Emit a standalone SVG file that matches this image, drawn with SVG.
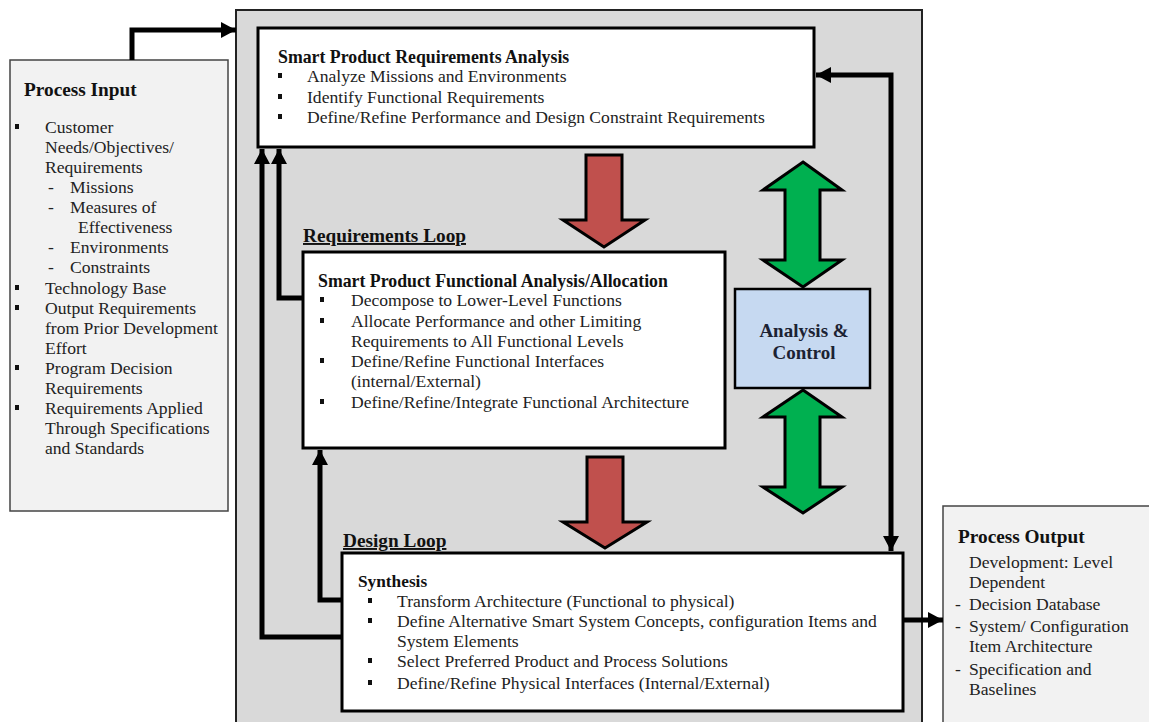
<svg xmlns="http://www.w3.org/2000/svg" width="1149" height="722" viewBox="0 0 1149 722">
<style>
.t{font-family:"Liberation Serif","Times New Roman",serif;font-size:17.6px;fill:#222}
.b{font-family:"Liberation Serif","Times New Roman",serif;font-size:17.8px;font-weight:bold;fill:#111}
.h{font-size:19.3px}
.u{text-decoration:underline}
.box{fill:#fff;stroke:#000;stroke-width:3}
.side{fill:#f2f2f2;stroke:#444;stroke-width:1.5}
.conn{fill:none;stroke:#000;stroke-width:5}
.red{fill:#c0504d;stroke:#000;stroke-width:3;stroke-linejoin:miter}
.green{fill:#00b050;stroke:#000;stroke-width:3;stroke-linejoin:miter}
.bul{fill:#111}
</style>
<defs>
<marker id="ah" markerUnits="userSpaceOnUse" markerWidth="16" markerHeight="16" refX="15" refY="8" orient="auto-start-reverse">
<path d="M0,0 L15,8 L0,16 z" fill="#000"/>
</marker>
</defs>
<rect width="1149" height="722" fill="#fff"/>
<g id="main">
<rect x="236" y="10" width="686" height="730" fill="#d9d9d9" stroke="#222" stroke-width="2"/>
</g>
<g id="process-input">
<rect class="side" x="10" y="60" width="218" height="451"/>
<text class="b h" x="24" y="96">Process Input</text>
<rect class="bul" x="15" y="124" width="4" height="5"/>
<text class="t" x="45" y="133">Customer</text>
<text class="t" x="45" y="153">Needs/Objectives/</text>
<text class="t" x="45" y="173">Requirements</text>
<text class="t" x="48" y="193">-</text><text class="t" x="70" y="193">Missions</text>
<text class="t" x="48" y="213">-</text><text class="t" x="70" y="213">Measures of</text>
<text class="t" x="78" y="233">Effectiveness</text>
<text class="t" x="48" y="253">-</text><text class="t" x="70" y="253">Environments</text>
<text class="t" x="48" y="273">-</text><text class="t" x="70" y="273">Constraints</text>
<rect class="bul" x="15" y="285" width="4" height="5"/>
<text class="t" x="45" y="294">Technology Base</text>
<rect class="bul" x="15" y="305" width="4" height="5"/>
<text class="t" x="45" y="314">Output Requirements</text>
<text class="t" x="45" y="334">from Prior Development</text>
<text class="t" x="45" y="354">Effort</text>
<rect class="bul" x="15" y="365" width="4" height="5"/>
<text class="t" x="45" y="374">Program Decision</text>
<text class="t" x="45" y="394">Requirements</text>
<rect class="bul" x="15" y="405" width="4" height="5"/>
<text class="t" x="45" y="414">Requirements Applied</text>
<text class="t" x="45" y="434">Through Specifications</text>
<text class="t" x="45" y="454">and Standards</text>
</g>
<g id="requirements-analysis">
<rect class="box" x="258" y="28" width="556" height="119"/>
<text class="b" x="278" y="63">Smart Product Requirements Analysis</text>
<rect class="bul" x="278" y="73" width="4" height="5"/>
<text class="t" x="307" y="82">Analyze Missions and Environments</text>
<rect class="bul" x="278" y="94" width="4" height="5"/>
<text class="t" x="307" y="103">Identify Functional Requirements</text>
<rect class="bul" x="278" y="114" width="4" height="5"/>
<text class="t" x="307" y="123">Define/Refine Performance and Design Constraint Requirements</text>
</g>
<g id="requirements-loop-label">
<text class="b h u" x="303" y="242">Requirements Loop</text>
</g>
<g id="functional-analysis">
<rect class="box" x="303" y="252" width="422" height="196"/>
<text class="b" x="318" y="287">Smart Product Functional Analysis/Allocation</text>
<rect class="bul" x="320" y="297" width="4" height="5"/>
<text class="t" x="351" y="306">Decompose to Lower-Level Functions</text>
<rect class="bul" x="320" y="318" width="4" height="5"/>
<text class="t" x="351" y="327">Allocate Performance and other Limiting</text>
<text class="t" x="351" y="347">Requirements to All Functional Levels</text>
<rect class="bul" x="320" y="358" width="4" height="5"/>
<text class="t" x="351" y="367">Define/Refine Functional Interfaces</text>
<text class="t" x="351" y="387">(internal/External)</text>
<rect class="bul" x="320" y="399" width="4" height="5"/>
<text class="t" x="351" y="408">Define/Refine/Integrate Functional Architecture</text>
</g>
<g id="design-loop-label">
<text class="b h u" x="343" y="547">Design Loop</text>
</g>
<g id="synthesis">
<rect class="box" x="342" y="553" width="561" height="158"/>
<text class="b" x="358" y="587" style="font-size:17.3px">Synthesis</text>
<rect class="bul" x="368" y="598" width="4" height="5"/>
<text class="t" x="397" y="607">Transform Architecture (Functional to physical)</text>
<rect class="bul" x="368" y="618" width="4" height="5"/>
<text class="t" x="397" y="627">Define Alternative Smart System Concepts, configuration Items and</text>
<text class="t" x="397" y="647">System Elements</text>
<rect class="bul" x="368" y="658" width="4" height="5"/>
<text class="t" x="397" y="667">Select Preferred Product and Process Solutions</text>
<rect class="bul" x="368" y="680" width="4" height="5"/>
<text class="t" x="397" y="689">Define/Refine Physical Interfaces (Internal/External)</text>
</g>
<g id="analysis-control">
<rect x="735" y="289" width="135" height="99" fill="#c6d9f1" stroke="#000" stroke-width="2.5"/>
<text class="b" x="804" y="337" text-anchor="middle" style="fill:#1c2233;font-size:19px">Analysis &amp;</text>
<text class="b" x="804" y="359" text-anchor="middle" style="fill:#1c2233;font-size:19px">Control</text>
</g>
<g id="process-output">
<rect class="side" x="943" y="506" width="220" height="230"/>
<text class="b h" x="958" y="543">Process Output</text>
<text class="t" x="969" y="568">Development: Level</text>
<text class="t" x="969" y="588">Dependent</text>
<text class="t" x="955" y="610">-</text><text class="t" x="969" y="610">Decision Database</text>
<text class="t" x="955" y="632">-</text><text class="t" x="969" y="632">System/ Configuration</text>
<text class="t" x="969" y="652">Item Architecture</text>
<text class="t" x="955" y="675">-</text><text class="t" x="969" y="675">Specification and</text>
<text class="t" x="969" y="695">Baselines</text>
</g>
<g id="flow-arrows">
<polygon class="red" points="586,155 622,155 622,220 645,220 604,247 563,220 586,220"/>
<polygon class="red" points="587,457 623,457 623,522 647,522 605,548 563,522 587,522"/>
<polygon class="green" points="803,162 842,190 820,190 820,260 842,260 803,287 763,260 785,260 785,190 763,190"/>
<polygon class="green" points="803,390 842,417 820,417 820,487 842,487 803,513 763,487 785,487 785,417 763,417"/>
</g>
<g id="connectors">
<path class="conn" d="M132,60 V30 H236" marker-end="url(#ah)"/>
<path class="conn" d="M816,75 H891 V551" marker-start="url(#ah)" marker-end="url(#ah)"/>
<path class="conn" d="M342,637 H262 V149" marker-end="url(#ah)"/>
<path class="conn" d="M303,298 H279 V149" marker-end="url(#ah)"/>
<path class="conn" d="M342,600 H320 V450" marker-end="url(#ah)"/>
<path class="conn" d="M903,620 H943" marker-end="url(#ah)"/>
</g>
</svg>
